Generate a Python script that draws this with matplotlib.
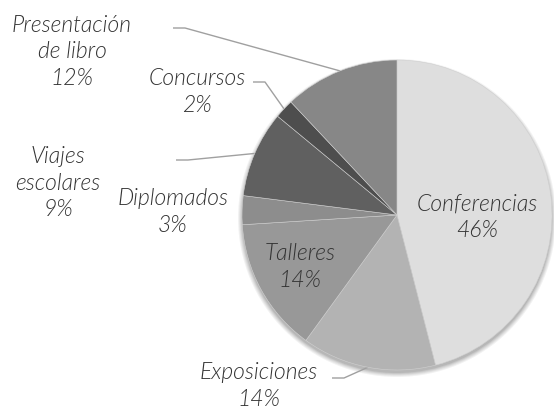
import numpy as np
import matplotlib
matplotlib.use("Agg")
import matplotlib.pyplot as plt
from matplotlib.patches import Circle

categories = ["Conferencias", "Exposiciones", "Talleres", "Diplomados",
              "Viajes\nescolares", "Concursos", "Presentación\nde libro"]
values = [46, 14, 14, 3, 9, 2, 12]
colors = ["#dedede", "#b3b3b3", "#989898", "#8d8d8d", "#606060", "#4e4e4e", "#878787"]

W, H = 554, 408
fig = plt.figure(figsize=(W / 100, H / 100), dpi=100)
ax = fig.add_axes([0, 0, 1, 1])

cx, cy, R = 397, 215, 155

# soft drop shadow
for k, a in enumerate([0.05, 0.05, 0.06, 0.07, 0.08]):
    ax.add_patch(Circle((cx, cy + 3), R + 4 - k, facecolor="#000000", alpha=a,
                        edgecolor="none", zorder=0))

wedges, _ = ax.pie(values, colors=colors, startangle=-90, counterclock=True,
                   center=(cx, cy), radius=R, frame=True,
                   wedgeprops=dict(edgecolor="#d0d0d0", linewidth=0.4))
for w in wedges:
    w.set_zorder(2)
ax.set_xlim(0, W)
ax.set_ylim(H, 0)
ax.set_aspect("equal")
ax.axis("off")

font = dict(family="Lato", style="italic", weight=300, fontsize=16.5,
            color="#333333", ha="center", va="center", linespacing=1.3)

inside_pos = {0: (477, 217), 2: (300, 267)}
outside = {
    1: ((259, 386), (332, 378)),
    3: ((173, 212), None),
    4: ((58, 183), (176, 160)),
    5: ((197, 92), (253, 82)),
    6: ((72, 52), (173, 28)),
}

def edge_point(w):
    ang = np.deg2rad((w.theta1 + w.theta2) / 2)
    return cx + R * np.cos(ang), cy + R * np.sin(ang)

for i, (cat, v) in enumerate(zip(categories, values)):
    label = f"{cat}\n{v}%"
    if i in inside_pos:
        ax.text(*inside_pos[i], label, zorder=5, **font)
    else:
        tpos, lstart = outside[i]
        ax.text(*tpos, label, zorder=5, **font)
        if lstart is not None:
            ex, ey = edge_point(wedges[i])
            ax.plot([lstart[0], lstart[0] + 12, ex], [lstart[1], lstart[1], ey],
                    color="#a0a0a0", lw=1.0, solid_capstyle="butt", zorder=1)

fig.savefig("out.png", dpi=100)
